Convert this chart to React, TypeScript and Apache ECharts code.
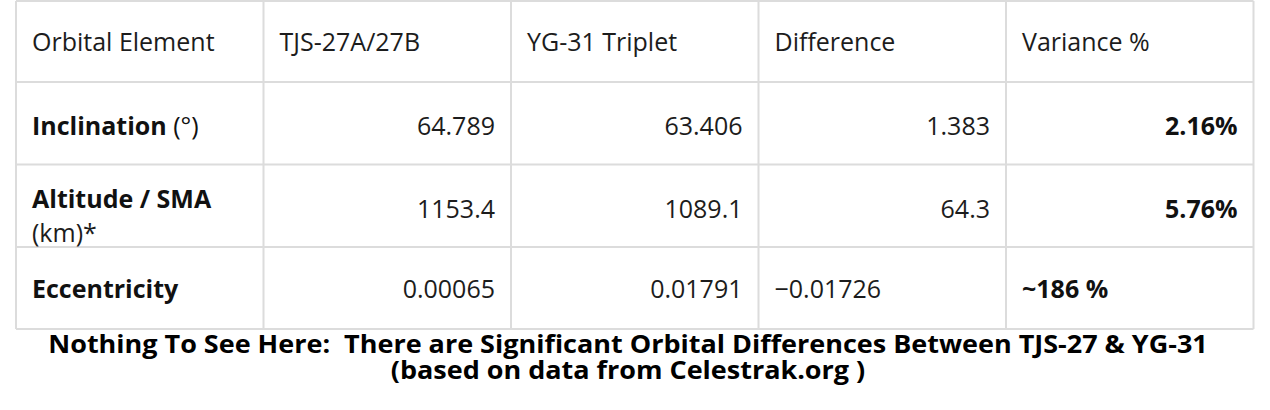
import React, { useEffect, useRef } from "react";
import * as echarts from "echarts";

const headers = ["Orbital Element", "TJS-27A/27B", "YG-31 Triplet", "Difference", "Variance %"];
const elementNames = ["Inclination", "Altitude / SMA", "Eccentricity"];
const elementUnits = ["(°)", "(km)*", ""];
const tjs27 = ["64.789", "1153.4", "0.00065"];
const yg31 = ["63.406", "1089.1", "0.01791"];
const difference = ["1.383", "64.3", "−0.01726"];
const variance = ["2.16%", "5.76%", "~186 %"];
const titleLines = [
  "Nothing To See Here:  There are Significant Orbital Differences Between TJS-27 & YG-31",
  "(based on data from Celestrak.org )",
];

const COLS = [16, 263.5, 511, 758.5, 1006, 1253.5];
const ROWS = [1, 82, 164.5, 247, 329];
const PAD = 16;
const FONT = "'Open Sans', 'Noto Sans', sans-serif";
const FS = 25;
const DY = -1.5;

export default function App() {
  const ref = useRef<HTMLDivElement>(null);
  useEffect(() => {
    if (!ref.current) return;
    const chart = echarts.init(ref.current, undefined, { renderer: "svg" });
    const els: any[] = [];
    ROWS.forEach((y) => {
      els.push({
        type: "line",
        shape: { x1: COLS[0], y1: y, x2: COLS[COLS.length - 1], y2: y },
        style: { stroke: "#dcdcdc", lineWidth: 2 },
      });
    });
    COLS.forEach((x) => {
      els.push({
        type: "line",
        shape: { x1: x, y1: ROWS[0], x2: x, y2: ROWS[ROWS.length - 1] },
        style: { stroke: "#dcdcdc", lineWidth: 2 },
      });
    });
    const txt = (
      text: string,
      x: number,
      y: number,
      align: string,
      weight: string = "normal",
      extra: any = {}
    ) => ({
      type: "text",
      x,
      y: y + DY,
      style: {
        text,
        x: 0,
        y: 0,
        align,
        textAlign: align,
        verticalAlign: "middle",
        textVerticalAlign: "middle",
        fontFamily: FONT,
        fontSize: FS,
        fontWeight: weight,
        fill: "#1c1c1c",
        ...extra,
      },
    });
    headers.forEach((h, i) => {
      els.push(txt(h, COLS[i] + PAD, 42.5, "left"));
    });
    const rowCenter = [126, 209, 289.5];
    const leftAligned = [false, false, true];
    elementNames.forEach((name, r) => {
      const yc = rowCenter[r];
      if (r === 0) {
        els.push(
          txt(`{b|${name}} {n|${elementUnits[r]}}`, COLS[0] + PAD, yc, "left", "normal", {
            rich: {
              b: { fontFamily: FONT, fontSize: FS, fontWeight: "bold", fill: "#111" },
              n: { fontFamily: FONT, fontSize: FS, fontWeight: "normal", fill: "#111" },
            },
          })
        );
      } else if (r === 1) {
        els.push(txt(name, COLS[0] + PAD, 199, "left", "bold", { fill: "#111" }));
        els.push(txt(elementUnits[r], COLS[0] + PAD, 233, "left"));
      } else {
        els.push(txt(name, COLS[0] + PAD, yc, "left", "bold", { fill: "#111" }));
      }
      const vals = [tjs27[r], yg31[r], difference[r]];
      vals.forEach((v, c) => {
        const col = c + 1;
        const la = col === 3 && leftAligned[r];
        els.push(
          txt(v, la ? COLS[col] + PAD : COLS[col + 1] - PAD, yc, la ? "left" : "right")
        );
      });
      const vla = leftAligned[r];
      els.push(
        txt(variance[r], vla ? COLS[4] + PAD : COLS[5] - PAD, yc, vla ? "left" : "right", "bold", {
          fill: "#111",
        })
      );
    });
    titleLines.forEach((t, i) => {
      els.push({
        type: "text",
        x: 628,
        y: i === 0 ? 343.5 : 369.8,
        scaleX: 1.08,
        style: {
          text: t,
          x: 0,
          y: 0,
          align: "center",
          textAlign: "center",
          verticalAlign: "middle",
          textVerticalAlign: "middle",
          fontFamily: FONT,
          fontSize: 25,
          fontWeight: "bold",
          fill: "#000",
        },
      });
    });
    chart.setOption({
      animation: false,
      backgroundColor: "#fff",
      graphic: { elements: els },
    });
    return () => chart.dispose();
  }, []);
  return (
    <div
      ref={ref}
      style={{ position: "fixed", left: 0, top: 0, width: 1270, height: 410, background: "#fff" }}
    />
  );
}
